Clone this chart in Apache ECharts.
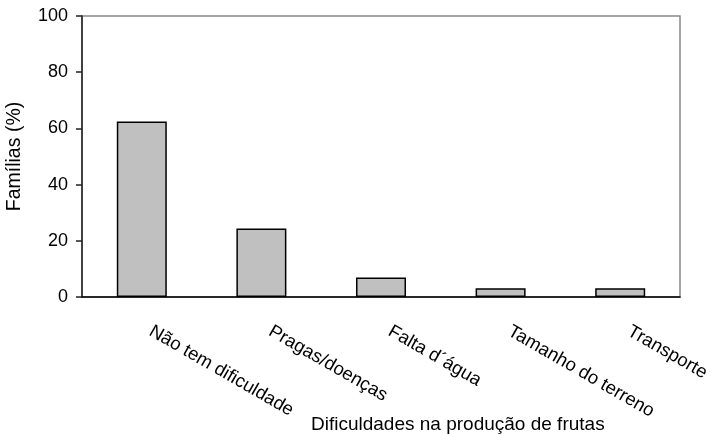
<!DOCTYPE html>
<html>
<head>
<meta charset="utf-8">
<script src="https://cdn.jsdelivr.net/npm/echarts@6/dist/echarts.min.js"></script>
<style>html,body{margin:0;padding:0;background:#fff}#c{width:711px;height:434px}</style>
</head>
<body>
<div id="c"></div>
<script>
const categories = ["Não tem dificuldade", "Pragas/doenças", "Falta d´água", "Tamanho do terreno", "Transporte"];
const values = [62.5, 24.4, 6.9, 3.1, 3.1];
const yTicks = [0, 20, 40, 60, 80, 100];
const xTitle = "Dificuldades na produção de frutas";
const yTitle = "Famílias (%)";

const font = "Liberation Sans, Arial, sans-serif";
const chart = echarts.init(document.getElementById('c'), null, {renderer: 'canvas'});
chart.setOption({
  animation: false,
  backgroundColor: '#fff',
  title: {
    text: xTitle, left: 306, top: 410,
    textStyle: {fontFamily: font, fontSize: 19, fontWeight: 'normal', color: '#000'}
  },
  grid: {left: 82, right: 31, top: 16, bottom: 137, show: true, borderColor: '#888', borderWidth: 1.5, containLabel: false, outerBoundsMode: 'none'},
  xAxis: {
    type: 'category', data: categories,
    axisLine: {lineStyle: {color: '#000', width: 1.5}},
    axisTick: {show: false},
    axisLabel: {rotate: -30, margin: 28, padding: [0, 0, 0, 10], fontFamily: font, fontSize: 18.5, color: '#000', interval: 0}
  },
  yAxis: {
    type: 'value', min: yTicks[0], max: yTicks[yTicks.length - 1], interval: 20,
    name: yTitle, nameLocation: 'middle', nameGap: 57,
    nameTextStyle: {fontFamily: font, fontSize: 19.5, color: '#000'},
    axisLine: {show: true, lineStyle: {color: '#222', width: 1.5}},
    axisTick: {show: true, length: 6, lineStyle: {color: '#222', width: 1.5}},
    splitLine: {show: false},
    axisLabel: {margin: 14, fontFamily: font, fontSize: 18, color: '#000'}
  },
  series: [{
    type: 'bar', data: values, barWidth: 50,
    itemStyle: {color: '#c0c0c0', borderColor: '#000', borderWidth: 1.5}
  }]
});
</script>
</body>
</html>
